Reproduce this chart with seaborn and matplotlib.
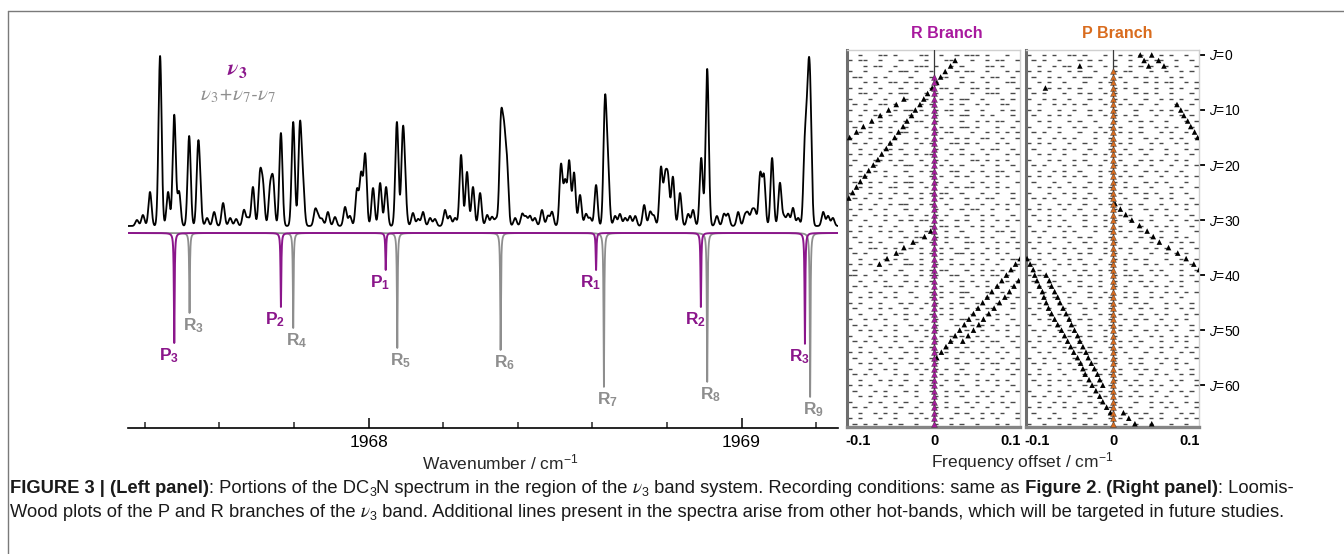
import numpy as np
import matplotlib
matplotlib.use("Agg")
import matplotlib.pyplot as plt
import seaborn as sns
from matplotlib.lines import Line2D

W, H = 1344, 554

peak_wn = [1967.379, 1967.395, 1967.414, 1967.441, 1967.4625, 1967.479, 1967.492, 1967.519,
           1967.543, 1967.548, 1967.567, 1967.586, 1967.610, 1967.629, 1967.645, 1967.666,
           1967.677, 1967.690, 1967.709, 1967.717, 1967.736, 1967.744, 1967.765, 1967.798,
           1967.816, 1967.824, 1967.857, 1967.865, 1967.875, 1967.891, 1967.910, 1967.937,
           1967.950, 1967.969, 1967.980, 1967.991, 1968.012, 1968.031, 1968.047, 1968.076,
           1968.092, 1968.098, 1968.119, 1968.133, 1968.146, 1968.165, 1968.178, 1968.205,
           1968.218, 1968.232, 1968.248, 1968.264, 1968.280, 1968.299, 1968.318, 1968.331,
           1968.342, 1968.355, 1968.363, 1968.371, 1968.393, 1968.412, 1968.422, 1968.433,
           1968.446, 1968.465, 1968.481, 1968.492, 1968.516, 1968.527, 1968.538, 1968.551,
           1968.567, 1968.583, 1968.594, 1968.610, 1968.634, 1968.642, 1968.661, 1968.674,
           1968.688, 1968.701, 1968.715, 1968.739, 1968.755, 1968.765, 1968.784, 1968.795,
           1968.803, 1968.816, 1968.835, 1968.857, 1968.870, 1968.892, 1968.908, 1968.934,
           1968.953, 1968.964, 1968.991, 1969.009, 1969.017, 1969.028, 1969.036, 1969.050,
           1969.060, 1969.082, 1969.103, 1969.114, 1969.125, 1969.138, 1969.152, 1969.170,
           1969.178, 1969.184, 1969.219, 1969.232, 1969.245]
peak_h = [6, 11, 34, 170, 34, 111, 34, 90,
          72, 25, 8, 14, 23, 8, 7, 16,
          8, 39, 50, 38, 36, 44, 93, 104,
          98, 40, 16, 9, 7, 14, 9, 19,
          10, 36, 51, 71, 38, 43, 39, 104,
          88, 30, 13, 7, 14, 8, 7, 16,
          10, 8, 71, 54, 39, 33, 11, 9,
          7, 100, 80, 58, 8, 12, 9, 10,
          8, 16, 10, 14, 61, 43, 64, 53,
          31, 12, 8, 41, 122, 52, 10, 12,
          8, 10, 10, 21, 14, 10, 58, 45,
          45, 49, 33, 12, 16, 68, 157, 10,
          12, 12, 14, 10, 12, 14, 14, 51,
          49, 68, 43, 9, 12, 18, 8, 78,
          100, 115, 14, 10, 8]
spec_base = 7

# simulated stick lines (drawn downwards)
v3_wn = [1967.479, 1967.765, 1968.046, 1968.610, 1968.891, 1969.170]
v3_depth = [110, 74, 37, 37, 74, 111]
v3_lab = ["P", "P", "P", "R", "R", "R"]
v3_j = [3, 2, 1, 1, 2, 3]
hot_wn = [1967.520, 1967.798, 1968.077, 1968.354, 1968.631, 1968.908, 1969.184]
hot_depth = [80, 95, 115, 117, 154, 149, 164]
hot_lab = ["R", "R", "R", "R", "R", "R", "R"]
hot_j = [3, 4, 5, 6, 7, 8, 9]

# ---- right panel: Loomis-Wood rows (J = 0..67), '-' = line found in that offset bin ----
r_rows = [
    "..-...--.-....--..-..-.---.-...-..", "-.--..-...-.-..-...--...-..-.--..-",
    "...-.--..-...---.-..-.-....--.-...", "-..-....-.--.-..-....-.--..-...-.-",
    ".--..-.-....-...-.--..-...-.--..-.", "...-.-..--.-.--..-....-.-..-...--.",
    "-.-...-...-..-..-.--.-..--.-.-...-", "..--.-..-.--...-.-..-...-..---..-.",
    "-...-..-...-.-.-..-.-.--..-...-.-.", ".-.-..--.-....-.-...-.-..-.-..--..",
    "-..-.-...-.--.-..-.--..-..-...-.-.", "..-..--.-...-..-.-..-.--..-.-...-.",
    "-.-...-..-.-.--..-....-..-.-.--..-", ".-..-.-.-..-...-..-.-.--.-...-..-.",
    "..-.-...-.--.-...-.--...-..-.-.-.-", "-...-.-..-...-.-..-..-.-..--..-..-",
    ".-.-..-.-..-..-.-...--.-.-...-.-..", "..-..-.--.-..-...-.-..-...-.--..-.",
    "-.-.-...-..-.-.--...-.-.-..-...-.-", ".-...--.-.-...-..-.-....--.-.-.-..",
    "-..-.-...-.--..-..-.-.-...-..-..-.", "..-..-.-...-..-.-...--..-.-..--..-",
    "-.--...-.-..-...-.-..-.-...-.-.-..", ".-..-.-..-.--.-..-..-...-.-..-...-",
    "..-.-...--..-..-...-.-.--..-.-.-..", "-...-.-..-.-..-.-.--..-...-..-..-.",
    ".-.-..-.-...-.-...-.-..-.-.--...-.", "..-..-..-.--..-.-..-...-..-..-.-.-",
    "-.-.-..-...-.-...-..-.-.--..-..-..", ".-...-.-.-..-..-.-.-...-..-.-...-.",
    "-..-...-..-.-.--..-..-.-..-..-.-.-", "..-.-.-..-...-..-.--.-..-.-.-..-..",
    "-.-...-.-.-..-.-...-..-...-..--.-.", ".-..-...-..-.--..-.-.-.-..-.-...-.",
    "..-.-.-...-..-..-..-...--.-..-.-.-", "-...--.-.-..-.-...-.-..-...-.-...-",
    ".-.-...-..-...-.-.-..--.-.-..-.-..", "..-..-.-.-.-..-...-.-...-..-..-.--",
    "-.-.-...-..--.-..-..-.-.-.-..-...-", ".-...-.-..-...-.-.--...-..-.-.-.-.",
    "--.-..-..-.-..-.--..--..-.-.--.-..", "..-..-.-...-.-..-...-.-.-..-...-.-",
    ".-.-...--.-..-.-..-...-..-.-.-..-.", "-...-.-..-..-...-.-.-.--...-..-...",
    "..-.-..-.-...-..-.-...-.-..-.-.-.-", "-.-...-...-.-..-.-..-.-..-...-..-.",
    ".-..-.-.-..-..-...-.-..-.-.--...-.", "..-...-..-.-.-..-.-.-...-..-.-.-..",
    "-..-.-.-...-...-.-..-.--.-...-..-.", ".-.-...-.-..-.-..-...-..-.-.-..-.-",
    "..-.-.-..-...-.-.-.-...-..-..-.-..", "-...-..-.-.-...-..-.-.-..-.-...-.-",
    ".-.-.-...-..-.-..-..-...-.-.--..-.", "..-...-.-.-..--.-..-.-.-...-..-..-",
    "-.-.-..-...-.-...-.-..-.-.-..-.-..", ".-...-..-.-..-..-..-.-...-.-..-..-",
    "..-.-.-..-..-.-..-...-.-..-.--..-.", "-...-..-.-...-.-.-.-..-...-..-.-.-",
    ".-.-.-...-.-..-...-..-.-.-..-...-.", "..-...-.-..-..-.-..-.-...-.-.-.-..",
    "-.-.-...-.-..-..-.-...-..-...-..-.", ".-...-.-...-.-..-..-.-.-..-.-..-.-",
    "..-.-..-.-...-...-.-..-..-.-..-...", "-...-.-..-.-..-.-..-...-.-..-.-.-.",
    ".-.-...-..-..-...-.-.-..-..-...-..", "..-..-.-.-..-.-..-...-.-..-.-.-..-",
    "-.-...-..-...-.-..-.-...-.-..-...-", ".-.-.-..-.-..-...-..-.-..-...-.-..",
]
p_rows = [
    "-..-.-..--.-...-..-.-.-...-.-..-..", ".-.-..-...-.-.-..-..-..-.--..-..-.",
    "..-..-.--...-..-.-..-.-.-..-.-...-", "-.-.-...-.-..-...-.--...-..-..-.-.",
    ".-..-.-..-.--..-..-..-.-.-..-.-...", "..-.-..-...-..-.-..-...-.-.--..-.-",
    "-...-.-.-.-...-..-.-.-...-..-.-..-", ".-.-...-..-.-..-.-...-.-.-..-...-.",
    "-..-.-..-...-.-..-.-...-..-.-.-..-", "..-..-.-.-.-...-..-.-.-..-...-..-.",
    "-.-...-..-..-.-..-...-..-.-.-..-..", ".-..-.-.-...-..-.-.-.-...-..-.-.-.",
    "..-.-...-.-..-...-..-.-.-..-...-.-", "-...-.-..-.-..-.-.-...-..-.-.-..-.",
    ".-.-..-...-..-.-..-.-.-...-.-..-..", "..-..-.-.-...-..-...-..-.-..-.-..-",
    "-.-.-...-..-.-..-.-.-...-.-..-.-..", ".-...-.-.-..-...-..-..-.-..-...-.-",
    "..-.-..-...-.-.-..-.-..-...-.-..-.", "-...-.-..-.-...-..-...-.-.-..-.-..",
    ".-.-...-.-..-.-..-.-.-..-...-..-.-", "..-..-.-..-...-.-..-...-.-.-..-...",
    "-.-.-..-.-.-..-...-.-.-...-..-.-.-", ".-...-..-...-.-..-.-...-.-.-...-..",
    "..-.-.-..-.-..-.-..-.-..-...-.-..-", "-...-..-.-..-...-.-..-.-.-..-..-..",
    ".-.-.-...-.-.-..-..-...-..-.-...-.", "..-...-.-..-..-.-.-.-.-...-..-.-.-",
    "-.-.-..-..-..-...-..-..-.-.-...-..", ".-..-.-..-.-.-.-..-.-...-..-.-..-.",
    "..-.-..-...-...-.-..-.-.-...-..-.-", "-...-.-.-..-.-.-..-...-..-.-.-..-.",
    ".-.-...-.-...-..-.-.-.-...-..-...-", "..-..-.-..-.-...-..-..-.-.-..-.-..",
    "-.-.-...-..-.-.-.-...-..-...-.-.-.", ".-...-.-.-..-..-..-.-..-.-.-..-..-",
    "..-.-..-..-.-..-.-..-...-..-.-.-..", "-.-..-..-.-...-..-.-.-.-...-..-..-",
    ".-.-..-.-..-.-..-..-...-.-..-.-.-.", "..-..-...-.-..-.-..-.-..-.-...-..-",
    "-.--.-.-..-.-.-..-.--.-..-.-..-.-.", ".-...-..-.-...-..-..-.-.-...-.-..-",
    "..-.-.-...-.-.-..-.-...-.-.-..-...", "-..-...-.-..-..-...-.-..-..-.-.-.-",
    ".-.-.-..-...-.-.-..-.-..-.-...-...", "..-...-.-.-..-..-.-..-.-...-.-..-.",
    "-.-.-..-...-.-..-...-.-.-..-..-.-.", ".-..-.-.-..-..-.-.-...-..-.-...-.-",
    "..-.-...-.-.-...-..-.-.-..-..-.-..", "-...-.-..-..-.-.-.-..-...-.-.-..-.",
    ".-.-..-.-...-..-..-.-..-.-..-...-.", "..-..-..-.-.-..-.-...-..-.-..-.-.-",
    "-.-.-.-...-..-.-..-.-.-...-..-.-..", ".-...-.-.-..-...-.-..-..-.-.-..-.-",
    "..-.-..-..-.-.-..-.-...-..-...-.-.", "-..-.-...-...-.-.-..-.-..-.-.-...-",
    ".-.-..-.-.-..-...-..-.-...-..-.-..", "..-...-..-.-.-.-..-..-.-.-...-..-.",
    "-.-.-..-...-..-.-.-...-..-.-..-.-.", ".-..-.-.-.-...-..-.-.-..-...-.-..-",
    "..-.-...-..-.-..-...-.-.-.-..-...-", "-...-.-..-.-..-.-.-..-...-..-.-.-.",
    ".-.-..-.-...-..-..-.-.-.-..-...-..", "..-..-.-..-.-.-..-...-..-.-.-..-.-",
    "-.-.-..-.-...-..-.-.-...-..-.-...-", ".-...-...-.-.-..-..-.-.-..-...-.-.",
    "..-.-.-..-..-...-.-...-.-.-..-.-.-", "-..-..-.-..-.-.-...-.-..-...-..-..",
]

# assigned band lines (centre column) and other bands (black triangles)
r_assigned_j = list(range(4, 68))
p_assigned_j = list(range(3, 68))
r_other_j = [1, 2, 3, 4, 5, 6, 7, 8, 9, 10, 11, 12, 13, 14, 15, 16, 17, 18, 19, 20, 21, 22, 23, 24, 25, 26,
             8, 9, 10, 11, 12, 13, 14, 15,
             32, 33, 34, 35, 36, 37, 38,
             37, 38, 39, 40, 41, 42, 43, 44, 45, 46, 47, 48, 49, 50, 51, 52, 53, 54, 55,
             41, 42, 43, 44, 45, 46, 47, 48, 49, 50, 51, 52]
r_other_off = [0.027, 0.021, 0.014, 0.008, 0.003, -0.003, -0.009, -0.014, -0.019, -0.025, -0.030, -0.036,
               -0.041, -0.047, -0.052, -0.058, -0.063, -0.069, -0.074, -0.080, -0.086, -0.091, -0.097,
               -0.102, -0.107, -0.112,
               -0.040, -0.050, -0.060, -0.071, -0.082, -0.093, -0.102, -0.111,
               -0.005, -0.013, -0.028, -0.040, -0.050, -0.062, -0.072,
               0.112, 0.106, 0.100, 0.094, 0.088, 0.082, 0.075, 0.069, 0.063, 0.057, 0.051, 0.045, 0.039,
               0.033, 0.027, 0.021, 0.015, 0.009, 0.003,
               0.110, 0.104, 0.098, 0.092, 0.085, 0.078, 0.071, 0.064, 0.058, 0.051, 0.044, 0.037]
p_other_j = [0, 0, 1, 2, 1, 2, 2, 6,
             9, 10, 11, 12, 13, 14, 15,
             27, 28, 29, 30, 31, 32, 33, 34, 35, 36, 37, 38, 39,
             37, 38, 39, 40, 41, 42, 43, 44, 45, 46, 47, 48, 49, 50, 51, 52, 53, 54, 55, 56, 57, 58,
             59, 60, 61, 62, 63, 64, 65,
             40, 41, 42, 43, 44, 45, 46, 47, 48, 49, 50, 51, 52, 53, 54, 55, 56, 57, 58, 59, 60,
             65, 66, 67, 67]
p_other_off = [0.035, 0.050, 0.040, 0.046, 0.059, 0.066, -0.044, -0.089,
               0.083, 0.088, 0.092, 0.097, 0.101, 0.106, 0.110,
               0.002, 0.009, 0.016, 0.024, 0.034, 0.044, 0.052, 0.060, 0.072, 0.084, 0.095, 0.105, 0.112,
               -0.113, -0.109, -0.105, -0.103, -0.100, -0.097, -0.093, -0.091, -0.088, -0.085, -0.081,
               -0.077, -0.073, -0.068, -0.064, -0.060, -0.056, -0.052, -0.047, -0.043, -0.040, -0.037,
               -0.032, -0.028, -0.023, -0.018, -0.014, -0.009, -0.004,
               -0.088, -0.084, -0.081, -0.077, -0.073, -0.070, -0.066, -0.062, -0.058, -0.055, -0.051,
               -0.047, -0.044, -0.040, -0.036, -0.033, -0.029, -0.025, -0.021, -0.018, -0.014,
               0.013, 0.020, 0.028, 0.050]
j_ticks = [0, 10, 20, 30, 40, 50, 60]

# ---------------------------------------------------------------------------
sns.set_theme(style="white")
plt.rcParams["font.family"] = ["Liberation Sans", "DejaVu Sans"]
plt.rcParams["mathtext.fontset"] = "custom"
plt.rcParams["mathtext.rm"] = "Liberation Sans"
plt.rcParams["mathtext.it"] = "Liberation Sans:italic"
plt.rcParams["mathtext.bf"] = "Liberation Sans:bold"

PURPLE = "#8b168b"
GREY = "#8e8e8e"
MAGENTA = "#a8199e"
ORANGE = "#d96c1e"

fig = plt.figure(figsize=(W / 100, H / 100), dpi=100)


def box(x0, y0, x1, y1):
    return [x0 / W, 1 - y1 / H, (x1 - x0) / W, (y1 - y0) / H]


def ftext(x, y, s, **kw):
    return fig.text(x / W, 1 - y / H, s, **kw)


# frame of the figure
fig.add_artist(Line2D([8 / W, 8 / W], [0, 1 - 10.5 / H], color="#7a7a7a", lw=1))
fig.add_artist(Line2D([8 / W, 1], [1 - 10.5 / H, 1 - 10.5 / H], color="#7a7a7a", lw=1))

# ---- spectrum panel ----
ax = fig.add_axes(box(128, 40, 838, 428))
xlo, xhi = 1967.355, 1969.2587
wn = np.linspace(xlo, xhi, 16000)
sig = 0.0042
spec = spec_base + (np.array(peak_h)[:, None] *
                    np.exp(-0.5 * ((wn[None, :] - np.array(peak_wn)[:, None]) / sig) ** 2)).sum(0)
gam = 0.0012
hot = -(np.array(hot_depth)[:, None] /
        (1 + ((wn[None, :] - np.array(hot_wn)[:, None]) / gam) ** 2)).sum(0)
v3 = -(np.array(v3_depth)[:, None] /
       (1 + ((wn[None, :] - np.array(v3_wn)[:, None]) / gam) ** 2)).sum(0)

sns.lineplot(x=wn, y=spec, ax=ax, color="black", lw=1.3, estimator=None, sort=False)
sns.lineplot(x=wn, y=hot, ax=ax, color=GREY, lw=1.3, estimator=None, sort=False)
sns.lineplot(x=wn, y=v3, ax=ax, color=PURPLE, lw=1.4, estimator=None, sort=False)

for c, d, b, j in zip(v3_wn, v3_depth, v3_lab, v3_j):
    ax.annotate(r"$\mathbf{%s}_{\mathbf{%d}}$" % (b, j), xy=(c, -d), xytext=(-4, -2.5),
                textcoords="offset points", ha="center", va="top", color=PURPLE, fontsize=12.5)
for c, d, b, j in zip(hot_wn, hot_depth, hot_lab, hot_j):
    ax.annotate(r"$\mathbf{%s}_{\mathbf{%d}}$" % (b, j), xy=(c, -d), xytext=(2.5, -2.5),
                textcoords="offset points", ha="center", va="top", color=GREY, fontsize=12.5)

ax.set_xlim(xlo, xhi)
ax.set_ylim(-195, 193)
for s in ["top", "left", "right"]:
    ax.spines[s].set_visible(False)
ax.spines["bottom"].set_color("black")
ax.spines["bottom"].set_linewidth(1.2)
ax.set_yticks([])
ax.set_xticks([1968, 1969])
ax.set_xticks(np.arange(1967.4, 1969.25, 0.2), minor=True)
ax.tick_params(axis="x", which="major", direction="in", length=7, width=1.1, pad=5,
               labelsize=12.5, colors="black", bottom=True)
ax.tick_params(axis="x", which="minor", direction="in", length=4.5, width=1.1, bottom=True)
ax.set_facecolor("none")

ftext(237, 70, r"ν$_{\mathbf{3}}$", ha="center", va="center", family="STIXGeneral",
      style="italic", weight="bold", math_fontfamily="stix", color=PURPLE, fontsize=16)
ftext(238, 96, r"ν$_{\mathit{3}}$+ν$_{\mathit{7}}$-ν$_{\mathit{7}}$", ha="center", va="center",
      family="STIXGeneral", style="italic", math_fontfamily="stix", color=GREY, fontsize=15)
ftext(500, 462, r"Wavenumber / cm$^{-1}$", ha="center", va="center", fontsize=12.5)

# ---- Loomis-Wood panels ----
olo, ohi = -0.1144, 0.1118


def lw_panel(rect, rows, a_j, a_col, o_j, o_off):
    a = fig.add_axes(rect)
    step = (ohi - olo) / len(rows[0])
    ys, x0s, x1s = [], [], []
    for j, row in enumerate(rows):
        for i, ch in enumerate(row):
            if ch == "-":
                c = olo + (i + 0.5) * step
                ys.append(j)
                x0s.append(c - 0.42 * step)
                x1s.append(c + 0.42 * step)
    a.hlines(ys, x0s, x1s, color="#4a4a4a", lw=1.0, zorder=2)
    a.axvline(0, color="#3a3a3a", lw=0.9, zorder=3)
    sns.scatterplot(x=o_off, y=o_j, ax=a, marker="^", s=16, color="black",
                    edgecolor="none", zorder=4)
    sns.scatterplot(x=[0.0] * len(a_j), y=a_j, ax=a, marker="^", s=18, color=a_col,
                    edgecolor="#333333", linewidth=0.3, zorder=5)
    a.set_xlim(olo, ohi)
    a.set_ylim(67.6, -0.9)
    a.set_xticks([-0.1, 0, 0.1])
    a.set_xticklabels(["-0.1", "0", "0.1"], fontweight="bold")
    a.tick_params(axis="x", length=0, pad=5, labelsize=10.5, colors="black")
    a.set_yticks([])
    a.spines["left"].set_color("#6e6e6e")
    a.spines["left"].set_linewidth(2.2)
    a.spines["bottom"].set_color("#858585")
    a.spines["bottom"].set_linewidth(2.4)
    for s in ["top", "right"]:
        a.spines[s].set_color("#d0d0d0")
        a.spines[s].set_linewidth(1.0)
    a.set_xlabel("")
    a.set_ylabel("")
    return a


axR = lw_panel(box(847, 50, 1020, 427), r_rows, r_assigned_j, MAGENTA, r_other_j, r_other_off)
axP = lw_panel(box(1026, 50, 1199, 427), p_rows, p_assigned_j, ORANGE, p_other_j, p_other_off)
axP.yaxis.set_ticks_position("right")
axP.set_yticks(j_ticks)
axP.set_yticklabels([r"$\mathit{J}$=%d" % j for j in j_ticks])
axP.tick_params(axis="y", right=True, left=False, direction="out", length=4, width=1.3,
                pad=3, labelsize=10, colors="black")

ftext(947, 33, "R Branch", ha="center", va="center", color=MAGENTA, fontweight="bold", fontsize=11.5)
ftext(1117, 33, "P Branch", ha="center", va="center", color=ORANGE, fontweight="bold", fontsize=11.5)
ftext(1022, 462, r"Frequency offset / cm$^{-1}$", ha="center", va="center", fontsize=12.5)

# ---- caption ----
ren = fig.canvas.get_renderer()


def runs(x, y, parts, size):
    for s, kind in parts:
        kw = dict(fontsize=size, va="baseline", ha="left", color="#1a1a1a")
        dy = 0
        if kind == "b":
            kw["fontweight"] = "bold"
        elif kind == "nu":
            kw.update(family="STIXGeneral", style="italic", fontsize=size * 1.05)
        elif kind == "sub":
            kw["fontsize"] = size * 0.68
            dy = 3.5
        t = ftext(x, y + dy, s, **kw)
        x += t.get_window_extent(renderer=ren).width + (0.5 if kind == "sub" else 0)


cap = 13.2
runs(10, 493, [("FIGURE 3 | (Left panel)", "b"), (": Portions of the DC", "n"), ("3", "sub"),
               ("N spectrum in the region of the", "n"), (" ν", "nu"), ("3", "sub"),
               (" band system. Recording conditions: same as", "n"), (" Figure 2", "b"),
               (".", "n"), (" (Right panel)", "b"), (": Loomis-", "n")], cap)
runs(10, 517, [("Wood plots of the P and R branches of the", "n"), (" ν", "nu"), ("3", "sub"),
               (" band. Additional lines present in the spectra arise from other hot-bands, "
                "which will be targeted in future studies.", "n")], cap)

fig.savefig("out.png", dpi=100)
